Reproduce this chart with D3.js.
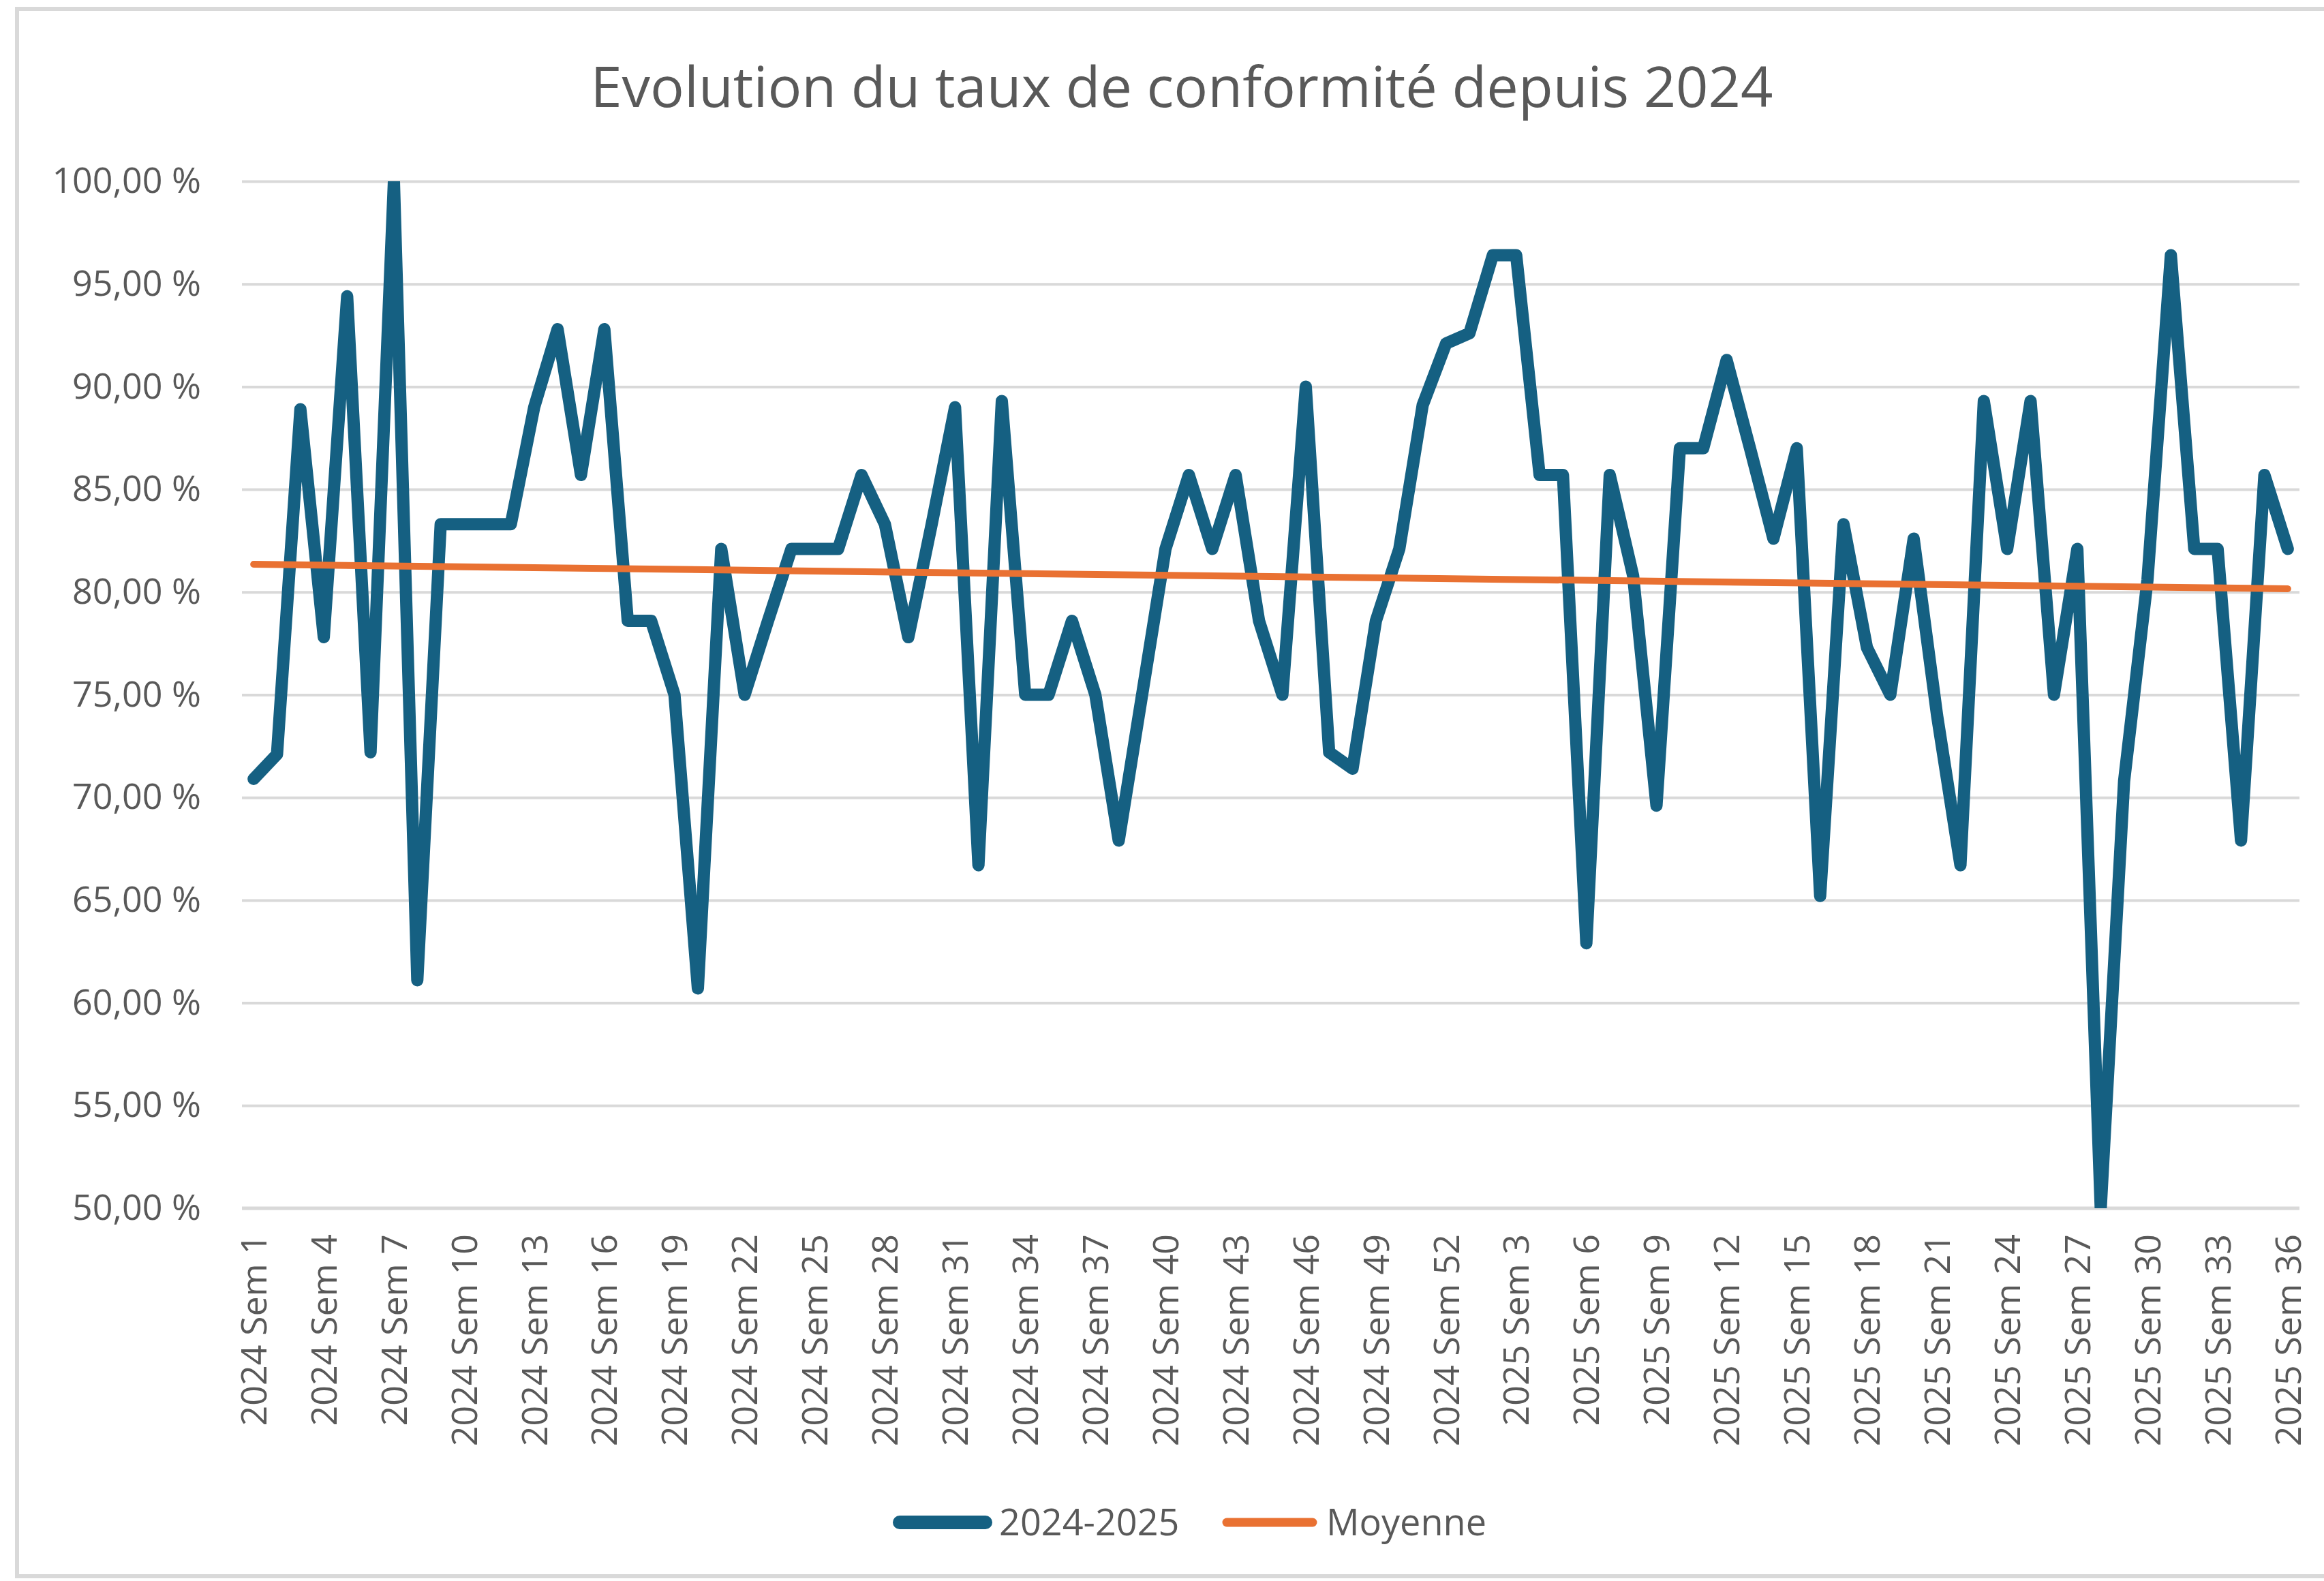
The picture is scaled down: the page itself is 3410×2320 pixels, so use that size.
<!DOCTYPE html>
<html>
<head>
<meta charset="utf-8">
<script src="https://cdn.jsdelivr.net/npm/d3@7"></script>
<style>
	body { margin: 0; background: #fff; }
	text { font-family: 'Open Sans', 'Noto Sans', sans-serif; fill: #595959; }
</style>
</head>
<body>
<script>
const WIDTH = 3410;
const HEIGHT = 2320;
const PLOT_LEFT = 355;
const PLOT_RIGHT = 3374;
const PLOT_TOP = 266;
const PLOT_BOTTOM = 1773;

// categories : 52 semaines en 2024, 36 en 2025
var years = [2024, 2025];
var weeksPerYear = [52, 36];
var categories = [];
years.forEach(function(y, k){
	for (var w = 1; w <= weeksPerYear[k]; w++) categories.push(y + ' Sem ' + w);
});

// taux de conformité (%) par semaine
var taux = [
	70.9, 72.1, 88.9, 77.8, 94.4, 72.2, 100, 61.1, 83.3, 83.3,
	83.3, 83.3, 89.0, 92.8, 85.7, 92.8, 78.6, 78.6, 75.0, 60.7,
	82.1, 75.0, 78.6, 82.1, 82.1, 82.1, 85.7, 83.3, 77.8, 83.3,
	89.0, 66.7, 89.3, 75.0, 75.0, 78.6, 75.0, 67.9, 75.0, 82.1,
	85.7, 82.1, 85.7, 78.6, 75.0, 90.0, 72.2, 71.4, 78.6, 82.1,
	89.1, 92.1, 92.6, 96.4, 96.4, 85.7, 85.7, 62.9, 85.7, 80.8,
	69.6, 87.0, 87.0, 91.3, 87.0, 82.6, 87.0, 65.2, 83.3, 77.3,
	75.0, 82.6, 74.0, 66.7, 89.3, 82.1, 89.3, 75.0, 82.1, 50.0,
	70.8, 80.6, 96.4, 82.1, 82.1, 67.9, 85.7, 82.1
];

// droite "Moyenne" : première et dernière semaine
var moyenneWeeks = [categories[0], categories[categories.length - 1]];
var moyenne = [81.35, 80.16];

var yTicks = [50, 55, 60, 65, 70, 75, 80, 85, 90, 95, 100];
var legendLabels = ['2024-2025', 'Moyenne'];
var title = 'Evolution du taux de conformité depuis 2024';

var BLUE = '#156082';
var ORANGE = '#e97132';
var GRID = '#d9d9d9';

var svg = d3.select('body').append('svg')
	.attr('width', WIDTH)
	.attr('height', HEIGHT);

// cadre du graphique
svg.append('rect')
	.attr('x', 25).attr('y', 13)
	.attr('width', WIDTH).attr('height', HEIGHT - 20)
	.style('fill', 'none')
	.style('stroke', GRID)
	.style('stroke-width', 6);

var xScale = d3.scalePoint()
	.domain(categories)
	.range([PLOT_LEFT, PLOT_RIGHT])
	.padding(0.5);

var yScale = d3.scaleLinear()
	.domain([50, 100])
	.range([PLOT_BOTTOM, PLOT_TOP]);

var fmt = function(d){ return d.toFixed(2).replace('.', ',') + ' %'; };

// axe Y + grille
var yAxis = d3.axisLeft(yScale)
	.tickValues(yTicks)
	.tickSize(-(PLOT_RIGHT - PLOT_LEFT))
	.tickPadding(60)
	.tickFormat(fmt);

var gy = svg.append('g')
	.attr('transform', 'translate(' + PLOT_LEFT + ',0)')
	.call(yAxis);
gy.select('.domain').remove();
gy.selectAll('.tick line').style('stroke', GRID).style('stroke-width', 4);
gy.selectAll('.tick text')
	.style('font-size', '52px')
	.style('fill', '#595959')
	.style('font-family', "'Open Sans', sans-serif");

// axe X
var xAxis = d3.axisBottom(xScale)
	.tickValues(categories.filter(function(d, i){ return i % 3 === 0; }))
	.tickSize(0);

var gx = svg.append('g')
	.attr('transform', 'translate(0,' + PLOT_BOTTOM + ')')
	.call(xAxis);
gx.select('.domain')
	.attr('d', 'M' + PLOT_LEFT + ',0H' + PLOT_RIGHT)
	.style('stroke', GRID)
	.style('stroke-width', 5);
gx.selectAll('.tick text')
	.attr('transform', 'rotate(-90)')
	.attr('text-anchor', 'end')
	.attr('x', -38)
	.attr('y', 0)
	.attr('dy', '0.35em')
	.style('font-size', '52px')
	.style('fill', '#595959')
	.style('font-family', "'Open Sans', sans-serif");

// zone de tracé (les points hors échelle sont coupés)
svg.append('clipPath')
	.attr('id', 'plot-clip')
	.append('rect')
	.attr('x', PLOT_LEFT).attr('y', PLOT_TOP)
	.attr('width', PLOT_RIGHT - PLOT_LEFT)
	.attr('height', PLOT_BOTTOM - PLOT_TOP);

var plot = svg.append('g').attr('clip-path', 'url(#plot-clip)');

var line = d3.line()
	.x(function(d){ return xScale(d[0]); })
	.y(function(d){ return yScale(d[1]); });

plot.append('path')
	.datum(d3.zip(categories, taux))
	.attr('d', line)
	.style('fill', 'none')
	.style('stroke', BLUE)
	.style('stroke-width', 18)
	.style('stroke-linejoin', 'round')
	.style('stroke-linecap', 'round');

plot.append('path')
	.datum(d3.zip(moyenneWeeks, moyenne))
	.attr('d', line)
	.style('fill', 'none')
	.style('stroke', ORANGE)
	.style('stroke-width', 10)
	.style('stroke-linecap', 'round');

// titre
svg.append('text')
	.attr('x', 1734)
	.attr('y', 157)
	.attr('text-anchor', 'middle')
	.style('font-size', '83px')
	.text(title);

// légende
var legend = svg.append('g').attr('transform', 'translate(0,2234)');
var legendItems = [
	{label: legendLabels[0], color: BLUE, x: 1320, w: 20},
	{label: legendLabels[1], color: ORANGE, x: 1800, w: 13}
];
legendItems.forEach(function(d){
	legend.append('line')
		.attr('x1', d.x).attr('x2', d.x + 126)
		.attr('y1', 0).attr('y2', 0)
		.style('stroke', d.color)
		.style('stroke-width', d.w)
		.style('stroke-linecap', 'round');
	legend.append('text')
		.attr('x', d.x + 146)
		.attr('y', 0)
		.attr('dy', '0.35em')
		.style('font-size', '54px')
		.text(d.label);
});
</script>
</body>
</html>
